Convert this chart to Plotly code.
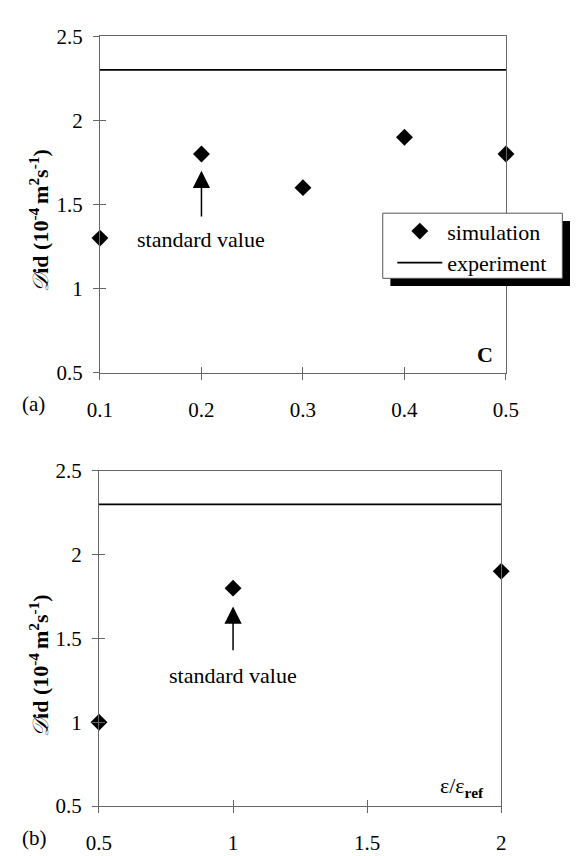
import plotly.graph_objects as go

W, H = 583, 856

# ---- data ----
c_values = [0.1, 0.2, 0.3, 0.4, 0.5]
sim_a = [1.3, 1.8, 1.6, 1.9, 1.8]
exp_a_x = [0.1, 0.5]
exp_a_y = [2.3, 2.3]

eps_values = [0.5, 1.0, 2.0]
sim_b = [1.0, 1.8, 1.9]
exp_b_x = [0.5, 2.0]
exp_b_y = [2.3, 2.3]

xticks_a = [0.1, 0.2, 0.3, 0.4, 0.5]
xticks_b = [0.5, 1.0, 1.5, 2.0]
xtick_text_b = ["0.5", "1", "1.5", "2"]
yticks = [0.5, 1.0, 1.5, 2.0, 2.5]
ytick_text = ["0.5", "1", "1.5", "2", "2.5"]

# "standard value" arrow annotations (data coordinates)
arrow_a = dict(x=0.2, tip=1.70, tail=1.42, label=1.29)
arrow_b = dict(x=1.0, tip=1.69, tail=1.42, label=1.28)

FONT = "Liberation Serif, 'Times New Roman', Times, serif"
AX = "#666666"

def px_x(p):
    return p / W

def px_y(p):
    return 1 - p / H

dom_xa = [px_x(91), px_x(516)]
dom_ya = [px_y(371), px_y(25)]
dom_xb = [px_x(90), px_x(511)]
dom_yb = [px_y(817), px_y(472)]

fig = go.Figure()

marker = dict(symbol="diamond", size=13, color="black")
line = dict(color="black", width=1.8)

fig.add_trace(go.Scatter(x=c_values, y=sim_a, mode="markers", marker=marker,
                         name="simulation", legendgroup="s", cliponaxis=False,
                         xaxis="x", yaxis="y"))
fig.add_trace(go.Scatter(x=exp_a_x, y=exp_a_y, mode="lines", line=line,
                         name="experiment", legendgroup="e",
                         xaxis="x", yaxis="y"))
fig.add_trace(go.Scatter(x=eps_values, y=sim_b, mode="markers", marker=marker,
                         showlegend=False, cliponaxis=False,
                         xaxis="x2", yaxis="y2"))
fig.add_trace(go.Scatter(x=exp_b_x, y=exp_b_y, mode="lines", line=line,
                         showlegend=False, xaxis="x2", yaxis="y2"))
# empty traces to carry the overlay (inside-tick) axes
fig.add_trace(go.Scatter(x=[None], y=[None], showlegend=False, xaxis="x3", yaxis="y3"))
fig.add_trace(go.Scatter(x=[None], y=[None], showlegend=False, xaxis="x4", yaxis="y4"))

tickfont = dict(family=FONT, size=21, color="black")

def xax(dom, anchor, rng, tv, tt=None):
    d = dict(domain=dom, anchor=anchor, range=rng, tickvals=tv, showgrid=False,
             zeroline=False, showline=True, linecolor=AX, linewidth=1, mirror=True,
             ticks="outside", ticklen=6, tickcolor=AX, tickfont=tickfont,
             ticklabelstandoff=12)
    if tt is not None:
        d["ticktext"] = tt
    return d

def yax(dom, anchor):
    return dict(domain=dom, anchor=anchor, range=[0.5, 2.5], tickvals=yticks,
                ticktext=ytick_text,
                showgrid=False, zeroline=False, showline=True, linecolor=AX,
                linewidth=1, mirror=True, ticks="outside", ticklen=6, tickcolor=AX,
                tickfont=tickfont, ticklabelstandoff=6)

def overlay_x(dom, anchor, over, rng, tv):
    return dict(domain=dom, anchor=anchor, overlaying=over, range=rng, tickvals=tv,
                showticklabels=False, showgrid=False, zeroline=False, showline=False,
                ticks="inside", ticklen=6, tickcolor=AX, side="bottom")

def overlay_y(dom, anchor, over):
    return dict(domain=dom, anchor=anchor, overlaying=over, range=[0.5, 2.5],
                tickvals=yticks, showticklabels=False, showgrid=False, zeroline=False,
                showline=False, ticks="inside", ticklen=6, tickcolor=AX, side="left")

fig.update_layout(
    width=W, height=H,
    margin=dict(l=0, r=0, t=0, b=0),
    paper_bgcolor="white", plot_bgcolor="white",
    font=dict(family=FONT, size=21, color="black"),
    xaxis=xax(dom_xa, "y", [0.1, 0.5], xticks_a),
    yaxis=yax(dom_ya, "x"),
    xaxis2=xax(dom_xb, "y2", [0.5, 2.0], xticks_b, xtick_text_b),
    yaxis2=yax(dom_yb, "x2"),
    xaxis3=overlay_x(dom_xa, "y3", "x", [0.1, 0.5], xticks_a),
    yaxis3=overlay_y(dom_ya, "x3", "y"),
    xaxis4=overlay_x(dom_xb, "y4", "x2", [0.5, 2.0], xticks_b),
    yaxis4=overlay_y(dom_yb, "x4", "y2"),
    showlegend=True,
    legend=dict(x=px_x(397), y=px_y(204), xanchor="left", yanchor="top",
                bgcolor="rgba(0,0,0,0)", borderwidth=0,
                font=dict(family=FONT, size=22, color="black"),
                itemwidth=45, tracegroupgap=6, traceorder="normal"),
)

# legend box with drop shadow
fig.add_shape(type="rect", xref="paper", yref="paper",
              x0=px_x(395), x1=px_x(583), y0=px_y(282), y1=px_y(215),
              fillcolor="black", line=dict(width=0), layer="above")
fig.add_shape(type="rect", xref="paper", yref="paper",
              x0=px_x(387), x1=px_x(575), y0=px_y(274), y1=px_y(207),
              fillcolor="white", line=dict(color="#555555", width=1), layer="above")

ytitle = "<i>𝒟</i><b>id (10<sup>-4 </sup>m<sup>2</sup>s<sup>-1</sup>)</b>"
center = dict(xanchor="center", yanchor="middle", showarrow=False)
annotations = [
    dict(text=ytitle, xref="paper", yref="paper", x=px_x(27), y=px_y(214),
         textangle=-90, font=dict(family=FONT, size=22), **center),
    dict(text=ytitle, xref="paper", yref="paper", x=px_x(27), y=px_y(672),
         textangle=-90, font=dict(family=FONT, size=22), **center),
    dict(text="(a)", xref="paper", yref="paper", x=px_x(21), y=px_y(403),
         font=dict(family=FONT, size=21), **center),
    dict(text="(b)", xref="paper", yref="paper", x=px_x(22), y=px_y(850),
         font=dict(family=FONT, size=21), **center),
    dict(text="<b>C</b>", xref="paper", yref="paper", x=px_x(494), y=px_y(352),
         font=dict(family=FONT, size=22), **center),
    dict(text="ε/ε<sub><b>ref</b></sub>", xref="paper", yref="paper", x=px_x(470),
         y=px_y(797), font=dict(family=FONT, size=22), **center),
]
for arr, xr, yr in [(arrow_a, "x", "y"), (arrow_b, "x2", "y2")]:
    annotations.append(dict(x=arr["x"], y=arr["tip"], ax=arr["x"], ay=arr["tail"],
                            xref=xr, yref=yr, axref=xr, ayref=yr, text="",
                            showarrow=True, arrowhead=2, arrowsize=2.3, arrowwidth=1.5,
                            arrowcolor="black", standoff=0))
    annotations.append(dict(x=arr["x"], y=arr["label"], xref=xr, yref=yr,
                            text="standard value", showarrow=False,
                            xanchor="center", yanchor="middle",
                            font=dict(family=FONT, size=22)))
fig.update_layout(annotations=annotations)

fig.write_html("out.html")
